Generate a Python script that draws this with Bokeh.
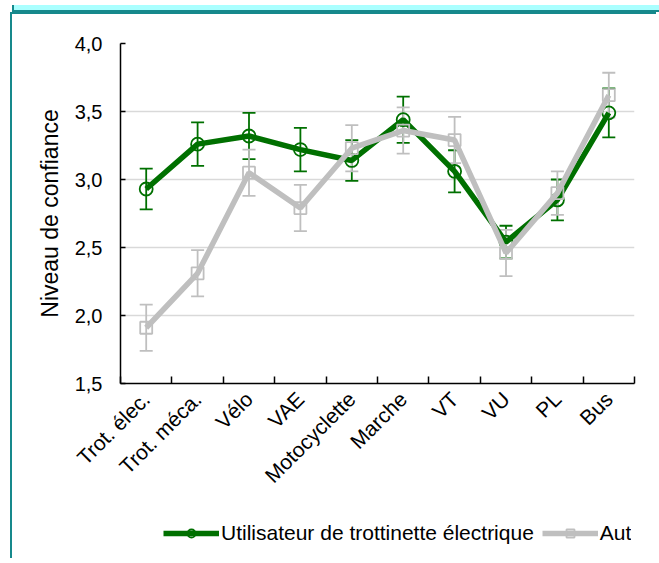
import numpy as np
from bokeh.plotting import figure
from bokeh.models import (ColumnDataSource, Whisker, TeeHead, FixedTicker, Legend,
                          LegendItem, Range1d, CustomJSTickFormatter, Div)
from bokeh.layouts import column
from bokeh.embed import file_html
from bokeh.resources import INLINE

categories = ["Trot. élec.", "Trot. méca.", "Vélo", "VAE", "Motocyclette",
              "Marche", "VT", "VU", "PL", "Bus"]
trott_values = [2.93, 3.26, 3.32, 3.22, 3.14, 3.44, 3.06, 2.54, 2.85, 3.49]
trott_err = [0.15, 0.16, 0.17, 0.16, 0.15, 0.17, 0.155, 0.12, 0.15, 0.18]
auto_values = [1.91, 2.31, 3.05, 2.79, 3.23, 3.36, 3.29, 2.46, 2.90, 3.62]
auto_err = [0.17, 0.17, 0.17, 0.17, 0.17, 0.17, 0.17, 0.17, 0.16, 0.165]
y_ticks = [1.5, 2.0, 2.5, 3.0, 3.5, 4.0]
series_names = ["Utilisateur de trottinette électrique", "Automobiliste"]
y_label = "Niveau de confiance"

GREEN = "#007000"
GRAY = "#BFBFBF"
TEAL = "#16898c"
FONT = "Liberation Sans"

n = len(categories)
centers = np.arange(n) + 0.5
bounds = np.arange(n + 1).astype(float)

def make_source(vals, errs):
    v = np.array(vals)
    e = np.array(errs)
    return ColumnDataSource(dict(x=centers, y=v, upper=v + e, lower=v - e))

src1 = make_source(trott_values, trott_err)
src2 = make_source(auto_values, auto_err)

p = figure(frame_width=512, frame_height=338, output_backend="svg", toolbar_location=None,
           x_range=Range1d(0, n), y_range=Range1d(y_ticks[0], y_ticks[-1]),
           min_border_left=108, min_border_right=24, min_border_top=29,
           min_border_bottom=177,
           background_fill_color="white", border_fill_color="white",
           styles={"border-left": f"2.5px solid {TEAL}",
                   "border-top": f"2.5px solid {TEAL}",
                   "margin-left": "10px", "margin-top": "12px"})
p.outline_line_color = None
p.xgrid.grid_line_color = None
p.ygrid.grid_line_color = "#D9D9D9"
p.ygrid.grid_line_width = 1.5
p.ygrid.ticker = FixedTicker(ticks=y_ticks)

# y axis
p.yaxis.ticker = FixedTicker(ticks=y_ticks)
p.yaxis.formatter = CustomJSTickFormatter(code="return tick.toFixed(1).replace('.', ',');")
p.yaxis.major_tick_in = 5
p.yaxis.major_tick_out = 0
p.yaxis.minor_tick_line_color = None
p.yaxis.axis_line_color = "black"
p.yaxis.axis_line_width = 1.5
p.yaxis.major_tick_line_width = 1.5
p.yaxis.major_label_text_font = FONT
p.yaxis.major_label_text_font_size = "20px"
p.yaxis.major_label_text_color = "black"
p.yaxis.major_label_standoff = 18
p.yaxis.axis_label = y_label
p.yaxis.axis_label_text_font = FONT
p.yaxis.axis_label_text_font_size = "23px"
p.yaxis.axis_label_text_font_style = "normal"
p.yaxis.axis_label_text_color = "black"
p.yaxis.axis_label_standoff = 9

# x axis
p.xaxis.ticker = FixedTicker(ticks=list(centers), minor_ticks=list(bounds))
p.xaxis.formatter = CustomJSTickFormatter(args=dict(labels=categories),
                                          code="return labels[Math.floor(tick)];")
p.xaxis.major_tick_in = 0
p.xaxis.major_tick_out = 0
p.xaxis.minor_tick_in = 7
p.xaxis.minor_tick_out = 0
p.xaxis.minor_tick_line_color = "black"
p.xaxis.minor_tick_line_width = 1.5
p.xaxis.axis_line_color = "black"
p.xaxis.axis_line_width = 1.5
p.xaxis.major_label_orientation = np.pi / 4
p.xaxis.major_label_text_font = FONT
p.xaxis.major_label_text_font_size = "21px"
p.xaxis.major_label_text_color = "black"
p.xaxis.major_label_standoff = 12

def add_series(fig, src, color, marker, msize, with_err=True):
    if with_err:
        w = Whisker(base="x", upper="upper", lower="lower", source=src,
                    line_color=color, line_width=1.8,
                    upper_head=TeeHead(size=13, line_color=color, line_width=1.8),
                    lower_head=TeeHead(size=13, line_color=color, line_width=1.8))
        fig.add_layout(w)
    ln = fig.line("x", "y", source=src, line_color=color, line_width=5.5)
    sc = fig.scatter("x", "y", source=src, marker=marker, size=msize,
                     line_color=color, line_width=1.8, fill_alpha=0)
    return ln, sc

add_series(p, src1, GREEN, "circle", 13)
add_series(p, src2, GRAY, "square", 12)

# legend-only figure (same series, drawn out of view), placed under the x labels
pl = figure(width=640, height=36, output_backend="svg", toolbar_location=None,
            x_range=Range1d(-20, -19), y_range=Range1d(-20, -19),
            x_axis_type=None, y_axis_type=None, min_border=0,
            background_fill_alpha=0, border_fill_alpha=0,
            styles={"margin-left": "15px", "margin-top": "-43px"})
pl.outline_line_color = None
pl.grid.visible = False
a1, b1 = add_series(pl, src1, GREEN, "circle", 9, with_err=False)
a2, b2 = add_series(pl, src2, GRAY, "square", 9, with_err=False)

legend = Legend(items=[LegendItem(label=series_names[0], renderers=[a1, b1]),
                       LegendItem(label=series_names[1], renderers=[a2, b2])],
                orientation="horizontal", location=(40, 6),
                glyph_width=56, glyph_height=20, label_standoff=2, spacing=8,
                padding=0, margin=0, border_line_alpha=0, background_fill_alpha=0,
                label_text_font=FONT, label_text_font_size="21px",
                label_text_color="black")
pl.add_layout(legend)

top = Div(text="", width=651, height=7,
          styles={"background-color": "#aaffff",
                  "border-bottom": f"2px solid {TEAL}",
                  "border-left": f"2px solid {TEAL}",
                  "border-right": f"2px solid {TEAL}",
                  "box-sizing": "border-box",
                  "position": "absolute", "top": "0px", "left": "7px",
                  "height": "7px", "overflow": "hidden"})

layout = column(p, pl, top, spacing=0)
open("out.html", "w").write(file_html(layout, INLINE))
